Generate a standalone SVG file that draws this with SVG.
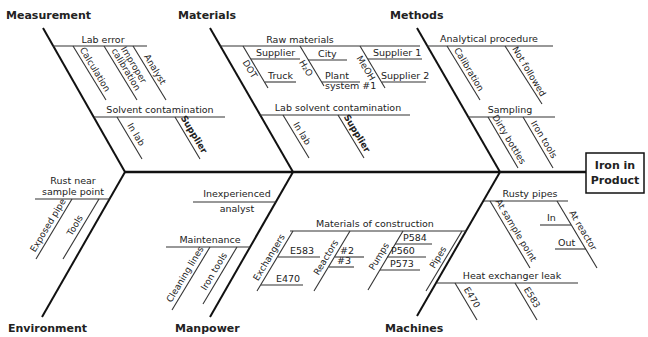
<svg xmlns="http://www.w3.org/2000/svg" width="648" height="337" viewBox="0 0 648 337">
<style>
text{font-family:"DejaVu Sans",Verdana,sans-serif;fill:#222}
.cat{font-size:11px;font-weight:bold}
.h{font-size:9.5px}
.r{font-size:9px;text-anchor:middle}
.b{font-weight:bold}
.bone{stroke:#111;stroke-width:2;fill:none}
.spine{stroke:#111;stroke-width:2.6;fill:none}
.ln{stroke:#333;stroke-width:1.1;fill:none}
.c{text-anchor:middle}
</style>
<rect width="648" height="337" fill="#fff"/>
<g id="connectors">
<line class="spine" x1="125" y1="172" x2="586" y2="172"/>
<line class="bone" x1="43" y1="28" x2="125" y2="172"/>
<line class="bone" x1="42" y1="317" x2="125" y2="172"/>
<line class="bone" x1="210" y1="28" x2="293" y2="172"/>
<line class="bone" x1="210" y1="317" x2="293" y2="172"/>
<line class="bone" x1="417" y1="28" x2="500" y2="172"/>
<line class="bone" x1="417" y1="316" x2="500" y2="172"/>
</g>
<g id="effect">
<rect x="586" y="153" width="58" height="40" fill="#fff" stroke="#111" stroke-width="1.5"/>
<text class="cat c" x="615" y="169">Iron in</text>
<text class="cat c" x="615" y="184">Product</text>
</g>
<g id="measurement">
<text class="cat" x="6" y="19">Measurement</text>
<line class="ln" x1="53" y1="46" x2="147" y2="46"/>
<text class="h c" x="103" y="43">Lab error</text>
<line class="ln" x1="73" y1="46" x2="106" y2="100"/>
<text class="r" transform="translate(89,73) rotate(59)" y="-4">Calculation</text>
<line class="ln" x1="104" y1="46" x2="137" y2="100"/>
<text class="r" transform="translate(120,73) rotate(59)"><tspan x="0" y="-13">Improper</tspan><tspan x="0" y="-4">calibration</tspan></text>
<line class="ln" x1="133" y1="46" x2="166" y2="100"/>
<text class="r" transform="translate(149,73) rotate(59)" y="-4">Analyst</text>
<line class="ln" x1="94" y1="117" x2="225" y2="117"/>
<text class="h c" x="160" y="113">Solvent contamination</text>
<line class="ln" x1="117" y1="117" x2="142" y2="159"/>
<text class="r" transform="translate(130,138) rotate(59)" y="-4">In lab</text>
<line class="ln" x1="175" y1="117" x2="200" y2="159"/>
<text class="r b" transform="translate(188,138) rotate(59)" y="-4">Supplier</text>
</g>
<g id="materials">
<text class="cat" x="178" y="19">Materials</text>
<line class="ln" x1="220" y1="46" x2="420" y2="46"/>
<text class="h c" x="300" y="43">Raw materials</text>
<line class="ln" x1="243" y1="46" x2="268" y2="88"/>
<text class="r" transform="translate(255,66) rotate(59)" y="9">DOT</text>
<line class="ln" x1="251" y1="59" x2="300" y2="59"/>
<text class="h" x="256" y="56">Supplier</text>
<line class="ln" x1="265" y1="82" x2="296" y2="82"/>
<text class="h" x="268" y="79">Truck</text>
<line class="ln" x1="300" y1="46" x2="324" y2="86"/>
<text class="r" transform="translate(311,65) rotate(59)" y="9">H₂O</text>
<line class="ln" x1="308" y1="60" x2="347" y2="60"/>
<text class="h" x="318" y="57">City</text>
<line class="ln" x1="322" y1="82" x2="360" y2="82"/>
<text class="h" x="325" y="79">Plant</text>
<text class="h" x="325" y="89">system #1</text>
<line class="ln" x1="360" y1="46" x2="385" y2="88"/>
<text class="r" transform="translate(371,65) rotate(59)" y="9">MeOH</text>
<line class="ln" x1="368" y1="59" x2="422" y2="59"/>
<text class="h" x="373" y="56">Supplier 1</text>
<line class="ln" x1="382" y1="82" x2="426" y2="82"/>
<text class="h" x="381" y="79">Supplier 2</text>
<line class="ln" x1="259" y1="115" x2="410" y2="115"/>
<text class="h c" x="338" y="111">Lab solvent contamination</text>
<line class="ln" x1="283" y1="115" x2="309" y2="158"/>
<text class="r" transform="translate(296,137) rotate(59)" y="-4">In lab</text>
<line class="ln" x1="338" y1="115" x2="364" y2="158"/>
<text class="r b" transform="translate(351,137) rotate(59)" y="-4">Supplier</text>
</g>
<g id="methods">
<text class="cat" x="390" y="19">Methods</text>
<line class="ln" x1="427" y1="46" x2="553" y2="46"/>
<text class="h c" x="489" y="42">Analytical procedure</text>
<line class="ln" x1="447" y1="46" x2="480" y2="100"/>
<text class="r" transform="translate(463,73) rotate(59)" y="-4">Calibration</text>
<line class="ln" x1="505" y1="46" x2="542" y2="104"/>
<text class="r" transform="translate(523,75) rotate(59)" y="-4">Not followed</text>
<line class="ln" x1="468" y1="117" x2="555" y2="117"/>
<text class="h c" x="510" y="113">Sampling</text>
<line class="ln" x1="488" y1="117" x2="518" y2="168"/>
<text class="r" transform="translate(503,143) rotate(59)" y="-4">Dirty bottles</text>
<line class="ln" x1="523" y1="117" x2="553" y2="168"/>
<text class="r" transform="translate(538,143) rotate(59)" y="-4">Iron tools</text>
</g>
<g id="environment">
<text class="cat" x="8" y="332">Environment</text>
<text class="h c" x="73" y="184">Rust near</text>
<text class="h c" x="73" y="195">sample point</text>
<line class="ln" x1="35" y1="199" x2="110" y2="199"/>
<line class="ln" x1="72" y1="199" x2="36" y2="259"/>
<text class="r" transform="translate(54,229) rotate(-59)" y="-4">Exposed pipe</text>
<line class="ln" x1="99" y1="199" x2="63" y2="259"/>
<text class="r" transform="translate(81,229) rotate(-59)" y="-4">Tools</text>
</g>
<g id="manpower">
<text class="cat" x="175" y="332">Manpower</text>
<text class="h c" x="237" y="197">Inexperienced</text>
<line class="ln" x1="193" y1="202" x2="276" y2="202"/>
<text class="h c" x="237" y="212">analyst</text>
<text class="h c" x="210" y="243">Maintenance</text>
<line class="ln" x1="166" y1="247" x2="250" y2="247"/>
<line class="ln" x1="210" y1="247" x2="172" y2="310"/>
<text class="r" transform="translate(191,278) rotate(-59)" y="-4">Cleaning lines</text>
<line class="ln" x1="237" y1="247" x2="203" y2="304"/>
<text class="r" transform="translate(220,275) rotate(-59)" y="-4">Iron tools</text>
</g>
<g id="machines">
<text class="cat" x="385" y="332">Machines</text>
<text class="h c" x="375" y="227">Materials of construction</text>
<line class="ln" x1="290" y1="231" x2="466" y2="231"/>
<line class="ln" x1="293" y1="231" x2="257" y2="291"/>
<text class="r" transform="translate(275,261) rotate(-59)" y="-4">Exchangers</text>
<line class="ln" x1="278" y1="257" x2="320" y2="257"/>
<text class="h" x="290" y="254">E583</text>
<line class="ln" x1="261" y1="285" x2="303" y2="285"/>
<text class="h" x="276" y="282">E470</text>
<line class="ln" x1="350" y1="231" x2="314" y2="291"/>
<text class="r" transform="translate(332,261) rotate(-59)" y="-4">Reactors</text>
<line class="ln" x1="335" y1="257" x2="364" y2="257"/>
<text class="h" x="340" y="254">#2</text>
<line class="ln" x1="329" y1="267" x2="354" y2="267"/>
<text class="h" x="337" y="264">#3</text>
<line class="ln" x1="403" y1="231" x2="368" y2="290"/>
<text class="r" transform="translate(385,260) rotate(-59)" y="-4">Pumps</text>
<line class="ln" x1="395" y1="244" x2="432" y2="244"/>
<text class="h" x="403" y="241">P584</text>
<line class="ln" x1="387" y1="257" x2="426" y2="257"/>
<text class="h" x="391" y="254">P560</text>
<line class="ln" x1="380" y1="270" x2="420" y2="270"/>
<text class="h" x="390" y="267">P573</text>
<line class="ln" x1="462" y1="231" x2="426" y2="291"/>
<text class="r" transform="translate(444,261) rotate(-59)" y="-4">Pipes</text>
<text class="h c" x="530" y="197">Rusty pipes</text>
<line class="ln" x1="484" y1="201" x2="568" y2="201"/>
<line class="ln" x1="490" y1="201" x2="530" y2="268"/>
<text class="r" transform="translate(510,234) rotate(59)" y="-4">At sample point</text>
<line class="ln" x1="557" y1="201" x2="597" y2="268"/>
<text class="r" transform="translate(577,234) rotate(59)" y="-4">At reactor</text>
<line class="ln" x1="540" y1="225" x2="571" y2="225"/>
<text class="h" x="547" y="221">In</text>
<line class="ln" x1="555" y1="249" x2="586" y2="249"/>
<text class="h" x="558" y="246">Out</text>
<text class="h c" x="512" y="279">Heat exchanger leak</text>
<line class="ln" x1="437" y1="283" x2="578" y2="283"/>
<line class="ln" x1="455" y1="283" x2="477" y2="320"/>
<text class="r" transform="translate(466,301) rotate(59)" y="-4">E470</text>
<line class="ln" x1="515" y1="283" x2="537" y2="320"/>
<text class="r" transform="translate(526,301) rotate(59)" y="-4">E583</text>
</g>
</svg>
